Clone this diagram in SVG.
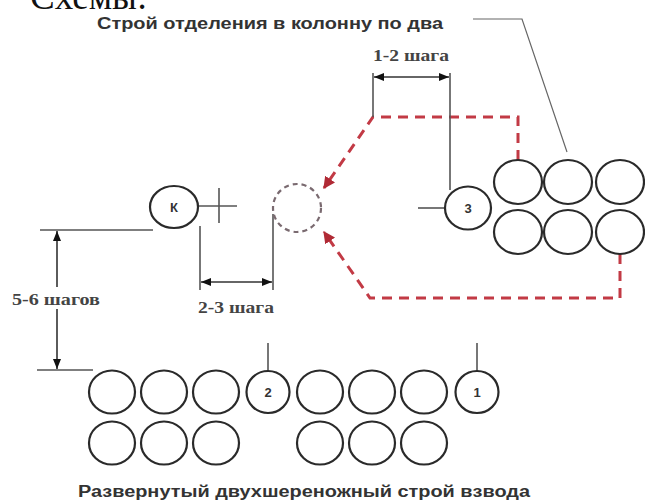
<svg xmlns="http://www.w3.org/2000/svg" width="645" height="501" viewBox="0 0 645 501">
<defs>
<style>
.c{fill:none;stroke:#2a2a2a;stroke-width:2.2}
.ln{fill:none;stroke:#555;stroke-width:1.6}
.thin{fill:none;stroke:#666;stroke-width:1.2}
.red{fill:none;stroke:#c23a45;stroke-width:3;stroke-dasharray:10 7}
.dc{fill:none;stroke:#7a6a70;stroke-width:2.2;stroke-dasharray:5 4}
.dim{fill:none;stroke:#333;stroke-width:1.6}
.num{font-family:"Liberation Sans",Arial,sans-serif;font-weight:bold;font-size:13px;fill:#333;text-anchor:middle}
.lab{font-family:"Liberation Serif","Times New Roman",serif;font-weight:bold;font-size:17px;fill:#444}
.tt{font-family:"Liberation Sans",Arial,sans-serif;font-weight:bold;font-size:16px;fill:#333}
</style>
<marker id="ah" viewBox="0 0 10 10" refX="10" refY="5" markerWidth="10" markerHeight="10" markerUnits="userSpaceOnUse" orient="auto-start-reverse"><path d="M0,1 L10,5 L0,9 z" fill="#111"/></marker>
<marker id="ar" viewBox="0 0 10 10" refX="9" refY="5" markerWidth="12" markerHeight="12" markerUnits="userSpaceOnUse" orient="auto"><path d="M0,0 L10,5 L0,10 z" fill="#b02a35"/></marker>
</defs>
<rect width="645" height="501" fill="#fff"/>
<text x="30" y="9" font-family="Liberation Serif,'Times New Roman',serif" font-size="37" fill="#111">Схемы:</text>
<text id="title-top" class="tt" x="97" y="29" textLength="346" lengthAdjust="spacingAndGlyphs">Строй отделения в колонну по два</text>
<text id="title-bottom" class="tt" x="78" y="497" textLength="452" lengthAdjust="spacingAndGlyphs">Развернутый двухшереножный строй взвода</text>
<g id="connectors">
<polyline class="thin" points="473,19 522,19 567,152"/>
<polyline class="red" points="518,160 518,117 373,117 324,188" marker-end="url(#ar)"/>
<polyline class="red" points="620,254 620,298 370,298 324,232" marker-end="url(#ar)"/>
<line class="ln" x1="373" y1="73" x2="373" y2="117"/>
<line class="ln" x1="450" y1="73" x2="450" y2="190"/>
<line class="dim" x1="374" y1="77" x2="449" y2="77" marker-start="url(#ah)" marker-end="url(#ah)"/>
<line class="ln" x1="200" y1="226" x2="200" y2="290"/>
<line class="ln" x1="273" y1="214" x2="273" y2="290"/>
<line class="dim" x1="201" y1="282" x2="272" y2="282" marker-start="url(#ah)" marker-end="url(#ah)"/>
<line class="ln" x1="40" y1="230" x2="153" y2="230"/>
<line class="ln" x1="37" y1="370" x2="93" y2="370"/>
<line class="dim" x1="57" y1="231" x2="57" y2="287" marker-start="url(#ah)"/>
<line class="dim" x1="57" y1="309" x2="57" y2="369" marker-end="url(#ah)"/>
<line class="ln" x1="198" y1="206" x2="237" y2="206"/>
<line class="ln" x1="219" y1="188" x2="219" y2="223"/>
<line class="ln" x1="418" y1="208" x2="446" y2="208"/>
<line class="ln" x1="268" y1="343" x2="268" y2="371"/>
<line class="ln" x1="477" y1="343" x2="477" y2="371"/>
</g>
<text id="lbl-12" class="lab" x="373" y="61" textLength="76" lengthAdjust="spacingAndGlyphs">1-2 шага</text>
<text id="lbl-23" class="lab" x="198" y="313" textLength="76" lengthAdjust="spacingAndGlyphs">2-3 шага</text>
<text id="lbl-56" class="lab" x="12" y="305" textLength="88" lengthAdjust="spacingAndGlyphs">5-6 шагов</text>
<g id="node-k"><ellipse class="c" cx="174" cy="207" rx="24" ry="21"/><text class="num" x="174" y="212">К</text></g>
<g id="node-target"><circle class="dc" cx="297" cy="208" r="24"/></g>
<g id="node-3"><ellipse class="c" cx="468" cy="208" rx="23" ry="21.5"/><text class="num" x="468" y="213">3</text></g>
<g id="squad-column">
<ellipse class="c" cx="518" cy="182" rx="24" ry="22"/>
<ellipse class="c" cx="568" cy="182" rx="24" ry="22"/>
<ellipse class="c" cx="620" cy="182" rx="24" ry="22"/>
<ellipse class="c" cx="518" cy="232" rx="24" ry="22"/>
<ellipse class="c" cx="568" cy="232" rx="24" ry="22"/>
<ellipse class="c" cx="620" cy="232" rx="24" ry="22"/>
</g>
<g id="platoon-line">
<ellipse class="c" cx="112" cy="392" rx="23" ry="21.5"/>
<ellipse class="c" cx="164" cy="392" rx="23" ry="21.5"/>
<ellipse class="c" cx="216" cy="392" rx="23" ry="21.5"/>
<ellipse class="c" cx="320" cy="392" rx="23" ry="21.5"/>
<ellipse class="c" cx="372" cy="392" rx="23" ry="21.5"/>
<ellipse class="c" cx="424" cy="392" rx="23" ry="21.5"/>
<ellipse class="c" cx="112" cy="443" rx="23" ry="21.5"/>
<ellipse class="c" cx="164" cy="443" rx="23" ry="21.5"/>
<ellipse class="c" cx="216" cy="443" rx="23" ry="21.5"/>
<ellipse class="c" cx="320" cy="443" rx="23" ry="21.5"/>
<ellipse class="c" cx="372" cy="443" rx="23" ry="21.5"/>
<ellipse class="c" cx="424" cy="443" rx="23" ry="21.5"/>
</g>
<g id="node-2"><ellipse class="c" cx="268" cy="392" rx="21.5" ry="21"/><text class="num" x="268" y="397">2</text></g>
<g id="node-1"><ellipse class="c" cx="477" cy="392" rx="21.5" ry="21"/><text class="num" x="477" y="397">1</text></g>
</svg>
